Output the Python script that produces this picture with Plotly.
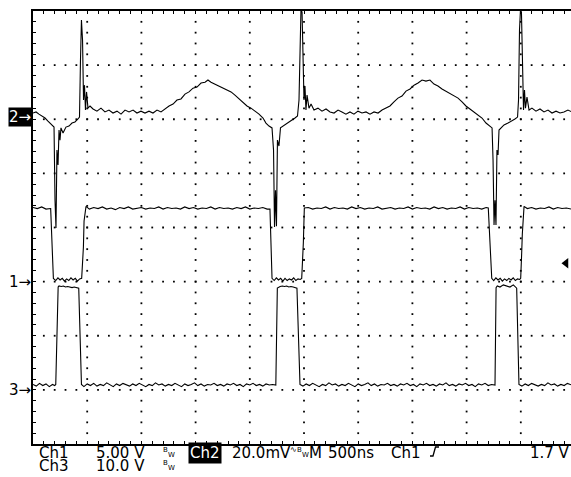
import plotly.graph_objects as go

# ---------------- scope settings ----------------
TIME_PER_DIV = 0.5          # µs per division (500 ns/div)
CH1_SCALE = 5.0             # V / div
CH2_SCALE = 20.0            # mV / div
CH3_SCALE = 10.0            # V / div
CH1_POS, CH2_POS, CH3_POS = 3.0, 6.05, 1.0   # ground markers (div from bottom)
TRIG_LEVEL = 1.7            # V on Ch1

# ---------------- waveforms: (time µs, value) ----------------
CH1 = [(0.00, 6.85), (0.04, 6.75), (0.08, 6.9), (0.12, 6.7), (0.163, 6.75), (0.188, 0.3),
       (0.21, 0.1), (0.23, 0.35), (0.25, 0.15), (0.27, 0.3), (0.29, 0.05), (0.31, 0.25), (0.33, 0.1),
       (0.35, 0.35), (0.37, 0.15), (0.39, 0.3), (0.41, 0.05), (0.43, 0.25), (0.449, 0.3),
       (0.465, 3.2), (0.471, 5.6), (0.489, 6.95),
       (0.52, 6.7), (0.56, 6.85), (0.60, 6.75), (0.64, 6.9), (0.68, 6.7), (0.72, 6.8), (0.76, 6.65),
       (0.80, 6.85), (0.84, 6.75), (0.88, 6.9), (0.92, 6.7), (0.96, 6.8), (1.00, 6.85), (1.04, 6.7),
       (1.08, 6.8), (1.12, 6.75), (1.16, 6.9), (1.20, 6.7), (1.24, 6.85), (1.28, 6.75), (1.32, 6.8),
       (1.36, 6.7), (1.40, 6.9), (1.44, 6.75), (1.48, 6.85), (1.52, 6.7), (1.56, 6.8), (1.60, 6.75),
       (1.64, 6.9), (1.68, 6.7), (1.72, 6.85), (1.76, 6.75), (1.80, 6.8), (1.84, 6.7), (1.88, 6.85),
       (1.92, 6.75), (1.96, 6.9), (2.00, 6.7), (2.04, 6.8), (2.08, 6.75), (2.12, 6.85), (2.16, 6.7),
       (2.186, 6.7), (2.205, 0.3),
       (2.225, 0.1), (2.245, 0.35), (2.265, 0.15), (2.285, 0.3), (2.305, 0.05), (2.325, 0.3),
       (2.345, 0.1), (2.365, 0.25), (2.385, 0.15), (2.405, 0.35), (2.425, 0.1), (2.445, 0.25),
       (2.465, 0.2), (2.479, 0.3), (2.485, 1.4), (2.494, 3.6), (2.503, 6.8),
       (2.54, 6.85), (2.58, 6.7), (2.62, 6.8), (2.66, 6.75), (2.70, 6.9), (2.74, 6.7), (2.78, 6.85),
       (2.82, 6.75), (2.86, 6.8), (2.90, 6.7), (2.94, 6.9), (2.98, 6.75), (3.02, 6.85), (3.06, 6.7),
       (3.10, 6.8), (3.14, 6.75), (3.18, 6.9), (3.22, 6.7), (3.26, 6.8), (3.30, 6.85), (3.34, 6.7),
       (3.38, 6.8), (3.42, 6.75), (3.46, 6.9), (3.50, 6.7), (3.54, 6.85), (3.58, 6.75), (3.62, 6.8),
       (3.66, 6.7), (3.70, 6.9), (3.74, 6.75), (3.78, 6.85), (3.82, 6.7), (3.86, 6.8), (3.90, 6.75),
       (3.94, 6.9), (3.98, 6.7), (4.02, 6.85), (4.06, 6.75), (4.10, 6.8), (4.14, 6.7), (4.18, 6.85),
       (4.200, 6.8), (4.215, 3.4), (4.232, 0.3),
       (4.25, 0.1), (4.27, 0.35), (4.29, 0.15), (4.31, 0.3), (4.33, 0.05), (4.35, 0.25), (4.37, 0.1),
       (4.39, 0.3), (4.41, 0.15), (4.43, 0.35), (4.45, 0.1), (4.47, 0.25), (4.49, 0.2),
       (4.499, 0.3), (4.508, 2.6), (4.514, 4.4), (4.530, 6.95),
       (4.56, 6.75), (4.60, 6.85), (4.64, 6.7), (4.68, 6.8), (4.72, 6.75), (4.76, 6.9), (4.80, 6.7),
       (4.84, 6.85), (4.88, 6.75), (4.92, 6.8), (4.97, 6.7)]

CH2 = [(0.000, 1.3), (0.028, 1.7), (0.055, 0.9), (0.083, 0.2), (0.111, -0.55), (0.138, -1.7),
       (0.166, -2.8), (0.185, -3.5), (0.194, -3.9), (0.203, -30.9), (0.212, -41.2), (0.221, -12.4),
       (0.231, -17.9), (0.240, -5.0), (0.249, -8.7), (0.258, -4.2), (0.277, -6.1), (0.304, -3.9),
       (0.332, -3.5), (0.360, -2.4), (0.387, -2.0), (0.415, -0.9), (0.429, -0.2), (0.438, 20.9),
       (0.447, 35.7), (0.457, 28.3), (0.466, 6.1), (0.475, 11.6), (0.484, 2.4), (0.494, 9.1),
       (0.507, 3.1), (0.526, 3.9), (0.554, 2.8), (0.590, 2.0), (0.627, 3.1), (0.664, 1.7),
       (0.701, 2.4), (0.738, 1.3), (0.775, 2.0), (0.812, 0.9), (0.849, 2.4), (0.886, 1.7),
       (0.923, 2.4), (0.959, 1.3), (0.996, 2.0), (1.033, 1.3), (1.070, 2.0), (1.107, 1.3),
       (1.144, 2.4), (1.181, 1.7), (1.218, 2.8), (1.255, 3.9), (1.292, 4.6), (1.328, 6.1),
       (1.365, 6.5), (1.402, 8.3), (1.439, 9.1), (1.476, 10.5), (1.513, 10.9), (1.550, 12.4),
       (1.587, 12.7), (1.614, 13.5), (1.642, 12.7), (1.679, 12.0), (1.716, 11.3), (1.753, 10.5),
       (1.790, 9.8), (1.827, 9.1), (1.863, 7.9), (1.900, 6.5), (1.937, 5.0), (1.974, 3.9),
       (2.011, 3.1), (2.048, 2.0), (2.085, 0.9), (2.122, -0.55), (2.149, -2.4), (2.177, -3.5),
       (2.205, -4.2), (2.219, -12.4), (2.228, -40.8), (2.237, -27.2), (2.246, -40.5), (2.255, -8.7),
       (2.269, -10.9), (2.283, -4.2), (2.306, -3.5), (2.334, -2.8), (2.362, -2.0), (2.389, -1.3),
       (2.417, -0.55), (2.440, 0.2), (2.454, 6.1), (2.463, 28.3), (2.472, 39.4), (2.482, 38.6),
       (2.491, 20.9), (2.500, 6.1), (2.509, 11.3), (2.518, 2.4), (2.528, 7.9), (2.546, 3.1),
       (2.565, 4.6), (2.592, 2.4), (2.629, 3.1), (2.666, 2.0), (2.703, 2.8), (2.740, 1.7),
       (2.777, 1.3), (2.814, 2.4), (2.850, 1.7), (2.887, 0.9), (2.924, 1.7), (2.961, 0.9),
       (2.998, 2.0), (3.035, 1.3), (3.072, 1.7), (3.109, 0.9), (3.146, 1.7), (3.183, 1.3),
       (3.220, 2.4), (3.256, 3.1), (3.293, 3.9), (3.330, 5.4), (3.367, 6.8), (3.404, 7.6),
       (3.441, 9.4), (3.478, 10.2), (3.515, 11.6), (3.552, 12.4), (3.589, 13.5), (3.625, 13.1),
       (3.662, 13.5), (3.699, 12.0), (3.736, 11.3), (3.773, 10.2), (3.810, 9.4), (3.847, 8.7),
       (3.884, 7.6), (3.921, 6.8), (3.958, 5.4), (3.994, 3.9), (4.031, 2.8), (4.068, 1.7),
       (4.105, 0.55), (4.142, -0.55), (4.179, -2.4), (4.216, -3.5), (4.235, -4.2), (4.244, -16.1),
       (4.253, -40.1), (4.262, -30.9), (4.271, -40.1), (4.280, -12.4), (4.290, -14.2), (4.299, -5.0),
       (4.317, -4.2), (4.345, -3.1), (4.382, -2.4), (4.419, -1.7), (4.446, -0.9), (4.470, -0.2),
       (4.479, 6.1), (4.488, 32.0), (4.497, 39.4), (4.506, 38.6), (4.516, 17.2), (4.525, 2.4),
       (4.534, 9.8), (4.543, 3.1), (4.557, 7.2), (4.576, 2.4), (4.603, 3.1), (4.640, 2.0),
       (4.677, 2.8), (4.714, 1.7), (4.751, 2.4), (4.788, 1.3), (4.825, 2.0), (4.862, 1.3),
       (4.898, 1.7), (4.935, 2.4), (4.972, 1.7)]

CH3 = [(0.00, 1.0), (0.03, 0.7), (0.06, 1.2), (0.09, 0.8), (0.12, 1.1), (0.15, 0.6), (0.18, 1.0),
       (0.20, 0.8), (0.21, 1.0), (0.232, 19.0), (0.24, 19.2), (0.26, 19.1), (0.28, 19.2), (0.30, 19.0),
       (0.32, 19.1), (0.34, 19.0), (0.36, 18.9), (0.38, 19.0), (0.40, 18.9), (0.422, 18.8), (0.447, 1.0),
       (0.47, 0.6), (0.50, 1.1), (0.53, 0.8), (0.56, 1.2), (0.59, 0.7), (0.62, 1.0), (0.65, 0.8),
       (0.68, 1.3), (0.71, 0.9), (0.74, 0.6), (0.77, 1.1), (0.80, 0.8), (0.83, 1.2), (0.86, 0.9),
       (0.89, 0.7), (0.92, 1.1), (0.95, 0.8), (0.98, 1.2), (1.01, 0.9), (1.04, 0.6), (1.07, 1.0),
       (1.10, 0.8), (1.13, 1.3), (1.16, 0.9), (1.19, 1.1), (1.22, 0.7), (1.25, 1.0), (1.28, 0.8),
       (1.31, 1.2), (1.34, 0.9), (1.37, 0.6), (1.40, 1.1), (1.43, 0.8), (1.46, 1.0), (1.49, 1.3),
       (1.52, 0.8), (1.55, 1.1), (1.58, 0.7), (1.61, 1.0), (1.64, 0.9), (1.67, 1.2), (1.70, 0.8),
       (1.73, 1.0), (1.76, 0.7), (1.79, 1.1), (1.82, 0.9), (1.85, 1.2), (1.88, 0.8), (1.91, 1.0),
       (1.94, 0.6), (1.97, 1.1), (2.00, 0.9), (2.03, 1.2), (2.06, 0.8), (2.09, 1.0), (2.12, 0.7),
       (2.15, 1.1), (2.18, 0.9), (2.21, 1.0), (2.240, 0.9), (2.254, 18.8), (2.28, 19.1), (2.30, 19.2),
       (2.32, 19.1), (2.34, 19.2), (2.36, 19.0), (2.38, 19.1), (2.40, 19.0), (2.42, 18.9), (2.435, 18.8),
       (2.463, 1.0), (2.49, 0.7), (2.52, 1.1), (2.55, 0.8), (2.58, 1.2), (2.61, 0.9), (2.64, 0.6),
       (2.67, 1.0), (2.70, 0.8), (2.73, 1.3), (2.76, 0.9), (2.79, 1.1), (2.82, 0.7), (2.85, 1.0),
       (2.88, 0.8), (2.91, 1.2), (2.94, 0.9), (2.97, 0.6), (3.00, 1.1), (3.03, 0.8), (3.06, 1.0),
       (3.09, 1.3), (3.12, 0.8), (3.15, 1.1), (3.18, 0.7), (3.21, 1.0), (3.24, 0.9), (3.27, 1.2),
       (3.30, 0.8), (3.33, 1.0), (3.36, 0.7), (3.39, 1.1), (3.42, 0.9), (3.45, 1.2), (3.48, 0.8),
       (3.51, 1.0), (3.54, 0.6), (3.57, 1.1), (3.60, 0.9), (3.63, 1.2), (3.66, 0.8), (3.69, 1.0),
       (3.72, 0.7), (3.75, 1.1), (3.78, 0.9), (3.81, 1.3), (3.84, 0.8), (3.87, 1.0), (3.90, 0.7),
       (3.93, 1.1), (3.96, 0.9), (3.99, 1.2), (4.02, 0.8), (4.05, 1.0), (4.08, 0.6), (4.11, 1.1),
       (4.14, 0.9), (4.17, 1.2), (4.20, 0.8), (4.23, 1.0), (4.262, 0.9), (4.272, 18.9), (4.283, 19.2),
       (4.308, 19.0), (4.339, 19.4), (4.370, 19.2), (4.400, 19.0), (4.431, 19.4), (4.456, 19.0),
       (4.462, 18.8), (4.483, 1.0), (4.51, 0.7), (4.54, 1.1), (4.57, 0.8), (4.60, 1.2), (4.63, 0.9),
       (4.66, 0.7), (4.69, 1.0), (4.72, 0.8), (4.75, 1.3), (4.78, 0.9), (4.81, 1.1), (4.84, 0.7),
       (4.87, 1.0), (4.90, 0.8), (4.93, 1.2), (4.97, 0.9)]

# ---------------- readout texts ----------------
ROW1 = [("Ch1", 38), ("5.00 V", 95), ("20.0mV", 231), ("M", 308), ("500ns", 327), ("Ch1", 390), ("1.7 V", 529)]
ROW2 = [("Ch3", 38), ("10.0 V", 95)]

FONT = "DejaVu Sans"
W, H = 571, 477
L, R, T, B = 33, 0, 11, 33
PW, PH = W - L - R, H - T - B
DIV_PX = 54.2
X_MAX = PW / DIV_PX * TIME_PER_DIV


def paper(x, y):
    return (x - L) / PW, (H - B - y) / PH


fig = go.Figure()

# graticule dots
gx, gy = [], []
for k in range(1, 10):
    for j in range(1, 40):
        gx.append(k * TIME_PER_DIV)
        gy.append(j * 0.2)
for j in range(1, 8):
    for i in range(1, 50):
        gx.append(i * TIME_PER_DIV / 5)
        gy.append(j)
fig.add_trace(go.Scatter(x=gx, y=gy, mode="markers", hoverinfo="skip",
                         marker=dict(symbol="square", size=1.8, color="black", line=dict(width=0))))


def add_wave(data, pos, scale):
    fig.add_trace(go.Scatter(x=[p[0] for p in data], y=[pos + p[1] / scale for p in data],
                             mode="lines", line=dict(color="black", width=1.1), hoverinfo="skip"))


add_wave(CH1, CH1_POS, CH1_SCALE)
add_wave(CH2, CH2_POS, CH2_SCALE)
add_wave(CH3, CH3_POS, CH3_SCALE)

# trigger level marker on the right
fig.add_trace(go.Scatter(x=[X_MAX - 5 / DIV_PX * TIME_PER_DIV], y=[CH1_POS + TRIG_LEVEL / CH1_SCALE],
                         mode="markers", cliponaxis=False, hoverinfo="skip",
                         marker=dict(symbol="triangle-left", size=9, color="black")))

ann = []
# ground markers
for label, pos, inv in [("2→", CH2_POS, True), ("1→", CH1_POS, False), ("3→", CH3_POS, False)]:
    ann.append(dict(text=label, xref="paper", x=-0.002, xanchor="right", yref="y", y=pos, yanchor="middle",
                    showarrow=False, font=dict(family=FONT, size=15, color="white" if inv else "black"),
                    bgcolor="black" if inv else "rgba(0,0,0,0)", borderpad=0))


def txt(text, x, y, size=15, color="black", bg="rgba(0,0,0,0)", pad=0):
    px, py = paper(x, y)
    ann.append(dict(text=text, xref="paper", yref="paper", x=px, y=py, xanchor="left", yanchor="middle",
                    showarrow=False, font=dict(family=FONT, size=size, color=color), bgcolor=bg, borderpad=pad))


Y1, Y2 = 452.5, 466
for s, x in ROW1:
    txt(s, x, Y1)
for s, x in ROW2:
    txt(s, x, Y2)
# inverted Ch2 label
txt("Ch2", 188, Y1, color="white", bg="black", pad=1)
# bandwidth-limit marks (small B above-left, W below-right)
for x0, y0 in [(162, Y1), (162, Y2), (296, Y1)]:
    txt("B", x0, y0 - 3, size=7)
    txt("W", x0 + 5, y0 + 2, size=7)
txt("∿", 289, Y1 - 3, size=8)

# rising-edge trigger symbol
pts = [(430, 456), (433, 456), (435.5, 447), (439, 447)]
path = "M " + " L ".join("%f,%f" % paper(x, y) for x, y in pts)
shapes = [dict(type="path", xref="paper", yref="paper", path=path, line=dict(color="black", width=1.3))]

axis_common = dict(showgrid=False, zeroline=False, showticklabels=False, showline=True, linecolor="black",
                   linewidth=1.5, ticks="inside", ticklen=3, tickcolor="black", tickwidth=1)
fig.update_layout(
    width=W, height=H, margin=dict(l=L, r=R, t=T, b=B, pad=0),
    paper_bgcolor="white", plot_bgcolor="white", showlegend=False,
    xaxis=dict(range=[0, X_MAX], tick0=0, dtick=TIME_PER_DIV, mirror="ticks",
               minor=dict(ticks="inside", ticklen=3, dtick=TIME_PER_DIV / 5, tickcolor="black", tickwidth=1,
                          showgrid=False), **axis_common),
    yaxis=dict(range=[0, 8], tick0=0, dtick=1,
               minor=dict(ticks="inside", ticklen=3, dtick=0.2, tickcolor="black", tickwidth=1,
                          showgrid=False), **axis_common),
    annotations=ann, shapes=shapes,
)

fig.write_html("out.html", config={"displayModeBar": False},
               post_script="document.body.style.margin='0px';document.body.style.overflow='hidden';")
